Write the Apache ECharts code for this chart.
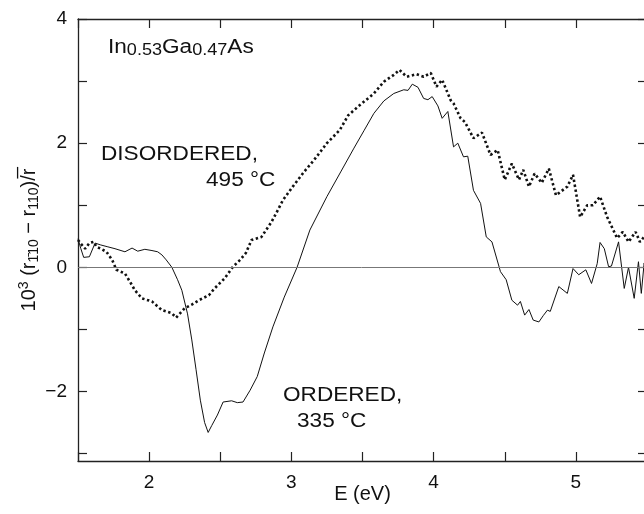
<!DOCTYPE html>
<html>
<head>
<meta charset="utf-8">
<script src="https://cdn.jsdelivr.net/npm/echarts@6/dist/echarts.min.js"></script>
<style>
  html, body { margin: 0; padding: 0; background: #fff; }
  #chartDiv { width: 644px; height: 514px; }
</style>
</head>
<body>
<div id="chartDiv"></div>
<script>
// ordered sample, 335 °C (solid line)
const orderedE = [1.50, 1.52, 1.54, 1.58, 1.62, 1.66, 1.71, 1.76, 1.83, 1.88, 1.92, 1.97, 2.02, 2.06, 2.09, 2.12, 2.16, 2.20, 2.23, 2.27,
	2.30, 2.33, 2.36, 2.39, 2.415, 2.44, 2.48, 2.52, 2.58, 2.62, 2.66, 2.71, 2.76, 2.81, 2.87, 2.95, 3.04, 3.13, 3.25, 3.35,
	3.44, 3.51, 3.58, 3.65, 3.72, 3.79, 3.82, 3.85, 3.89, 3.93, 3.96, 3.99, 4.03, 4.06, 4.10, 4.14, 4.17, 4.21, 4.24, 4.28,
	4.33, 4.37, 4.41, 4.47, 4.51, 4.55, 4.59, 4.61, 4.64, 4.67, 4.70, 4.74, 4.77, 4.80, 4.82, 4.88, 4.94, 4.98, 5.02, 5.07,
	5.11, 5.15, 5.17, 5.20, 5.23, 5.25, 5.30, 5.34, 5.37, 5.41, 5.44, 5.46, 5.48, 5.50];
const orderedR = [0.46, 0.30, 0.16, 0.17, 0.39, 0.36, 0.33, 0.30, 0.25, 0.31, 0.26, 0.29, 0.27, 0.25, 0.20, 0.12, 0.00, -0.20, -0.37, -0.75,
	-1.17, -1.65, -2.14, -2.50, -2.66, -2.55, -2.38, -2.17, -2.15, -2.18, -2.17, -1.98, -1.76, -1.38, -0.96, -0.48, 0.00, 0.60, 1.14, 1.55,
	1.92, 2.20, 2.48, 2.68, 2.80, 2.86, 2.85, 2.95, 2.90, 2.72, 2.70, 2.75, 2.60, 2.40, 2.51, 1.94, 2.00, 1.78, 1.79, 1.24,
	1.03, 0.49, 0.41, -0.07, -0.20, -0.53, -0.61, -0.55, -0.77, -0.68, -0.85, -0.88, -0.78, -0.69, -0.71, -0.31, -0.42, -0.02, -0.12, -0.04,
	-0.26, 0.06, 0.40, 0.30, 0.01, 0.02, 0.41, -0.34, 0.00, -0.50, 0.09, -0.42, 0.07, -0.20];

// disordered sample, 495 °C (dotted line)
const disorderedE = [1.50, 1.52, 1.55, 1.58, 1.61, 1.63, 1.66, 1.70, 1.74, 1.77, 1.83, 1.87, 1.90, 1.95, 2.02, 2.09, 2.16, 2.19, 2.25, 2.30,
	2.35, 2.42, 2.46, 2.53, 2.59, 2.64, 2.68, 2.72, 2.79, 2.86, 2.90, 2.94, 3.01, 3.09, 3.16, 3.25, 3.34, 3.40, 3.48, 3.58,
	3.65, 3.72, 3.76, 3.81, 3.88, 3.93, 3.98, 4.02, 4.06, 4.12, 4.14, 4.19, 4.22, 4.28, 4.34, 4.40, 4.45, 4.50, 4.55, 4.60,
	4.63, 4.67, 4.71, 4.76, 4.81, 4.86, 4.94, 4.98, 5.03, 5.08, 5.12, 5.17, 5.22, 5.29, 5.33, 5.37, 5.42, 5.45, 5.48, 5.50];
const disorderedR = [0.44, 0.38, 0.30, 0.39, 0.41, 0.33, 0.30, 0.25, 0.12, -0.04, -0.10, -0.25, -0.37, -0.50, -0.55, -0.69, -0.74, -0.81, -0.66, -0.60,
	-0.53, -0.45, -0.34, -0.18, 0.01, 0.12, 0.23, 0.44, 0.49, 0.73, 0.90, 1.08, 1.30, 1.54, 1.73, 2.00, 2.21, 2.45, 2.61, 2.80,
	2.99, 3.10, 3.18, 3.07, 3.11, 3.07, 3.13, 2.91, 3.02, 2.69, 2.64, 2.40, 2.34, 2.08, 2.17, 1.81, 1.89, 1.41, 1.67, 1.41,
	1.57, 1.30, 1.51, 1.36, 1.59, 1.16, 1.30, 1.49, 0.81, 1.00, 1.00, 1.14, 0.81, 0.47, 0.57, 0.41, 0.57, 0.41, 0.49, 0.45];

const yTickValues = [-3, -2, -1, 0, 1, 2, 3, 4];
const yLabelValues = [-2, 0, 2, 4];

const pairs = (xs, ys) => xs.map((x, i) => [x, ys[i]]);

const FONT = 'Liberation Sans';
const frameColor = '#222';
const textColor = '#111';

let chart = echarts.init(document.getElementById('chartDiv'));

// fresh objects for every axis (shared nested objects lost the ticks)
const axisLineStyle = () => ({ show: true, onZero: false, lineStyle: { color: frameColor, width: 1.3 } });
const tickStyle = () => ({ show: true, inside: true, length: 9, lineStyle: { color: frameColor, width: 1.2 } });

const makeX = (pos) => ({
	type: 'value',
	position: pos,
	min: 1.5,
	max: 5.5,
	interval: 0.5,
	axisLine: axisLineStyle(),
	axisTick: tickStyle(),
	splitLine: { show: false },
	axisLabel: pos === 'bottom' ? {
		margin: 12,
		fontFamily: FONT, fontSize: 19, color: textColor,
		formatter: v => (v % 1 === 0 ? String(v) : '')
	} : { show: false }
});

const makeY = (pos) => {
	let ax = {
		type: 'value',
		position: pos,
		min: -3.12,
		max: 4,
		axisLine: axisLineStyle(),
		axisTick: tickStyle(),
		splitLine: { show: false },
		axisLabel: pos === 'left' ? {
			margin: 11,
			fontFamily: FONT, fontSize: 19, color: textColor,
			customValues: yLabelValues,
			formatter: v => (v < 0 ? '\u2212' + Math.abs(v) : String(v))
		} : { show: false }
	};
	ax.axisTick.customValues = yTickValues;
	return ax;
};

let xBottom = makeX('bottom');
xBottom.name = 'E (eV)';
xBottom.nameLocation = 'middle';
xBottom.nameMoveOverlap = false;
xBottom.nameGap = 23;
xBottom.nameTextStyle = { fontFamily: FONT, fontSize: 20, color: textColor };

let yLeft = makeY('left');
yLeft.name = '10{sup|3} (r{sub|1\u030410} \u2212 r{sub|110})/r\u0305';
yLeft.nameLocation = 'middle';
yLeft.nameMoveOverlap = false;
yLeft.nameGap = 49;
yLeft.nameTextStyle = {
	fontFamily: FONT, fontSize: 20, color: textColor, lineHeight: 24, verticalAlign: 'middle',
	rich: {
		sup: { fontFamily: FONT, fontSize: 14, lineHeight: 14, verticalAlign: 'top', color: textColor },
		sub: { fontFamily: FONT, fontSize: 14, lineHeight: 14, verticalAlign: 'bottom', color: textColor }
	}
};

const label = (txt, x, y) => ({
	type: 'text', x: x, y: y, scaleX: 1.13,
	style: { text: txt, fontFamily: FONT, fontSize: 20, fill: textColor, textVerticalAlign: 'top' }
});

let option = {
	animation: false,
	backgroundColor: '#fff',
	grid: { left: 78, top: 19, right: -3, bottom: 53, outerBoundsMode: 'none', containLabel: false },
	xAxis: [xBottom, makeX('top')],
	yAxis: [yLeft, makeY('right')],
	graphic: [
		{
			type: 'text', x: 108, y: 35, scaleX: 1.13,
			style: {
				text: 'In{s|0.53}Ga{s|0.47}As',
				fontFamily: FONT, fontSize: 20, fill: textColor, lineHeight: 24, textVerticalAlign: 'top',
				rich: { s: { fontFamily: FONT, fontSize: 16, lineHeight: 16, verticalAlign: 'bottom', fill: textColor } }
			}
		},
		label('DISORDERED,', 101, 144),
		label('495 \u00B0C', 206, 170),
		label('ORDERED,', 283, 385),
		label('335 \u00B0C', 297, 411)
	],
	series: [
		{
			name: 'ordered',
			type: 'line',
			data: pairs(orderedE, orderedR),
			showSymbol: false,
			lineStyle: { color: '#111', width: 1 },
			z: 3,
			markLine: {
				silent: true,
				symbol: 'none',
				label: { show: false },
				lineStyle: { color: '#777', width: 1, type: 'solid' },
				data: [{ yAxis: 0 }]
			}
		},
		{
			name: 'disordered',
			type: 'line',
			data: pairs(disorderedE, disorderedR),
			showSymbol: false,
			lineStyle: { color: '#111', width: 2.6, type: [2.4, 2.6], cap: 'butt' },
			z: 4
		}
	]
};
chart.setOption(option);
</script>
</body>
</html>
